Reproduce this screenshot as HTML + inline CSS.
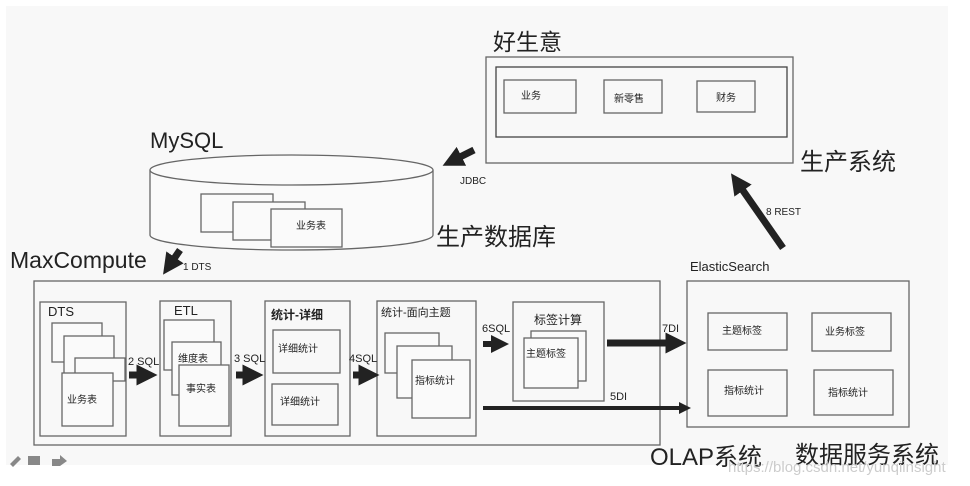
<!DOCTYPE html>
<html><head><meta charset="utf-8"><style>
html,body{margin:0;padding:0;background:#fff;width:970px;height:486px;overflow:hidden}
svg text{font-family:"Liberation Sans","Noto Sans CJK SC",sans-serif}
</style></head><body>
<svg width="970" height="486" viewBox="0 0 970 486" xmlns="http://www.w3.org/2000/svg">
<defs>
<marker id="ah" markerWidth="3" markerHeight="3" refX="1.5" refY="1.5" orient="auto" markerUnits="strokeWidth"><path d="M0,0 L3,1.5 L0,3z" fill="#222"/></marker>
</defs>
<rect x="6" y="6" width="942" height="459" fill="#f8f8f8"/>
<g fill="none" stroke="#666" stroke-width="1.3">
<rect x="486" y="57" width="307" height="106"/>
<rect x="496" y="67" width="291" height="70" stroke="#444"/>
<rect x="504" y="80" width="72" height="33"/>
<rect x="604" y="80" width="58" height="33"/>
<rect x="697" y="81" width="58" height="31"/>
<path d="M150,170 L150,235 A141.5,15 0 0 0 433,235 L433,170" fill="#fafafa"/>
<ellipse cx="291.5" cy="170" rx="141.5" ry="15" fill="#fafafa"/>
<rect x="201" y="194" width="72" height="38" fill="#fafafa"/>
<rect x="233" y="202" width="72" height="38" fill="#fafafa"/>
<rect x="271" y="209" width="71" height="38" fill="#fafafa"/>
<rect x="34" y="281" width="626" height="164"/>
<rect x="40" y="302" width="86" height="134"/>
<rect x="52" y="323" width="50" height="39" fill="#fafafa"/>
<rect x="64" y="336" width="50" height="39" fill="#fafafa"/>
<rect x="75" y="358" width="50" height="23" fill="#fafafa"/>
<rect x="62" y="373" width="51" height="53" fill="#fafafa"/>
<rect x="160" y="301" width="71" height="135"/>
<rect x="164" y="320" width="50" height="50" fill="#fafafa"/>
<rect x="172" y="342" width="49" height="53" fill="#fafafa"/>
<rect x="179" y="365" width="50" height="61" fill="#fafafa"/>
<rect x="265" y="301" width="85" height="135"/>
<rect x="273" y="330" width="67" height="43"/>
<rect x="272" y="384" width="66" height="41"/>
<rect x="377" y="301" width="99" height="135"/>
<rect x="385" y="333" width="54" height="40" fill="#fafafa"/>
<rect x="397" y="346" width="55" height="52" fill="#fafafa"/>
<rect x="412" y="360" width="58" height="58" fill="#fafafa"/>
<rect x="513" y="302" width="91" height="99"/>
<rect x="531" y="331" width="55" height="50" fill="#fafafa"/>
<rect x="524" y="338" width="54" height="50" fill="#fafafa"/>
<rect x="687" y="281" width="222" height="146"/>
<rect x="708" y="313" width="79" height="37"/>
<rect x="812" y="313" width="79" height="38"/>
<rect x="708" y="370" width="79" height="46"/>
<rect x="814" y="370" width="79" height="45"/>
</g>
<g stroke="#222" fill="none" marker-end="url(#ah)">
<line x1="474" y1="150" x2="452" y2="161" stroke-width="7"/>
<line x1="180" y1="250" x2="169" y2="266" stroke-width="7"/>
<line x1="129" y1="375" x2="147" y2="375" stroke-width="7"/>
<line x1="236" y1="375" x2="253" y2="375" stroke-width="7"/>
<line x1="353" y1="375" x2="369" y2="375" stroke-width="7"/>
<line x1="483" y1="344" x2="500" y2="344" stroke-width="6"/>
<line x1="607" y1="343" x2="676" y2="343" stroke-width="7"/>
<line x1="483" y1="408" x2="685" y2="408" stroke-width="4"/>
<line x1="783" y1="248" x2="737" y2="182" stroke-width="7"/>
</g>
<g fill="#222">
<text x="493" y="50" font-size="23">好生意</text>
<text x="800" y="170" font-size="24">生产系统</text>
<text x="150" y="148" font-size="22">MySQL</text>
<text x="436" y="245" font-size="24">生产数据库</text>
<text x="10" y="268" font-size="23">MaxCompute</text>
<text x="690" y="271" font-size="13">ElasticSearch</text>
<text x="650" y="465" font-size="24">OLAP系统</text>
<text x="795" y="463" font-size="24">数据服务系统</text>
<g font-size="10">
<text x="521" y="99">业务</text><text x="614" y="102">新零售</text><text x="716" y="101">财务</text>
<text x="296" y="229">业务表</text>
<text x="460" y="184">JDBC</text><text x="183" y="270">1 DTS</text>
<text x="766" y="215">8 REST</text>
<text x="67" y="403">业务表</text><text x="178" y="362">维度表</text><text x="186" y="392">事实表</text>
<text x="278" y="352">详细统计</text><text x="280" y="405">详细统计</text>
<text x="415" y="384">指标统计</text><text x="526" y="357">主题标签</text>
<text x="722" y="334">主题标签</text><text x="825" y="335">业务标签</text>
<text x="724" y="394">指标统计</text><text x="828" y="396">指标统计</text>
</g>
<g font-size="11">
<text x="48" y="316" font-size="13">DTS</text><text x="174" y="315" font-size="13">ETL</text>
<text x="271" y="319" font-size="12" font-weight="bold">统计-详细</text>
<text x="381" y="316">统计-面向主题</text><text x="534" y="324" font-size="12">标签计算</text>
<text x="128" y="365">2 SQL</text><text x="234" y="362">3 SQL</text><text x="349" y="362">4SQL</text>
<text x="482" y="332">6SQL</text><text x="662" y="332">7DI</text><text x="610" y="400">5DI</text>
</g>
</g>
<text x="728" y="472" font-size="15" fill="#ccc">https://blog.csdn.net/yunqiinsight</text>
<g fill="#888"><path d="M10,464 L18,456 L21,459 L13,467z"/><rect x="28" y="456" width="12" height="9"/><path d="M52,459 L60,459 L60,455 L67,461 L60,466 L52,466z"/></g>
</svg>
</body></html>
